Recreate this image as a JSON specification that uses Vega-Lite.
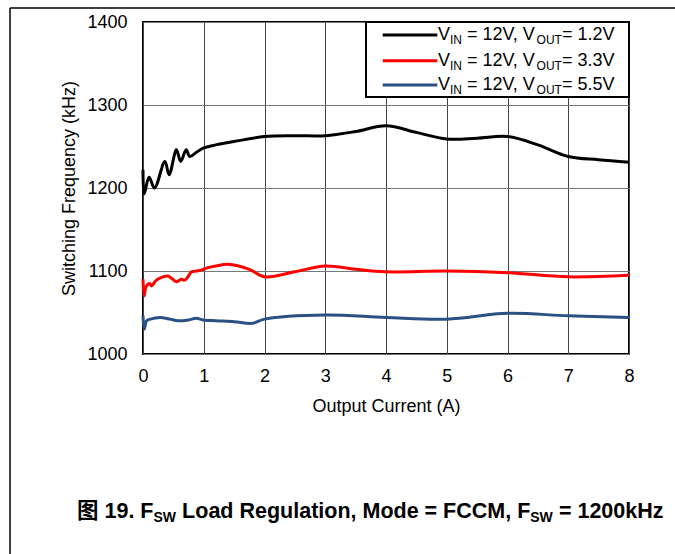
{
  "$schema": "https://vega.github.io/schema/vega-lite/v6.json",
  "width": 486,
  "height": 332,
  "autosize": {"type": "none"},
  "padding": {"left": 143, "top": 22, "right": 46, "bottom": 200},
  "background": "white",
  "config": {
    "font": "Liberation Sans",
    "view": {"stroke": "black", "strokeWidth": 2},
    "text": {"font": "Liberation Sans", "fontSize": 18, "baseline": "middle", "align": "left", "color": "black"}
  },
  "datasets": {
    "curves": [
      {"current": 0, "freq": 1222, "series": "1.2V"},
      {"current": 0.02, "freq": 1193, "series": "1.2V"},
      {"current": 0.1, "freq": 1213, "series": "1.2V"},
      {"current": 0.19, "freq": 1200, "series": "1.2V"},
      {"current": 0.36, "freq": 1232, "series": "1.2V"},
      {"current": 0.43, "freq": 1216, "series": "1.2V"},
      {"current": 0.55, "freq": 1246, "series": "1.2V"},
      {"current": 0.62, "freq": 1232, "series": "1.2V"},
      {"current": 0.71, "freq": 1246, "series": "1.2V"},
      {"current": 0.77, "freq": 1238, "series": "1.2V"},
      {"current": 0.88, "freq": 1243, "series": "1.2V"},
      {"current": 0.99, "freq": 1248, "series": "1.2V"},
      {"current": 1.2, "freq": 1252, "series": "1.2V"},
      {"current": 1.5, "freq": 1256, "series": "1.2V"},
      {"current": 2, "freq": 1262, "series": "1.2V"},
      {"current": 2.5, "freq": 1263, "series": "1.2V"},
      {"current": 3, "freq": 1263, "series": "1.2V"},
      {"current": 3.5, "freq": 1268, "series": "1.2V"},
      {"current": 4, "freq": 1275, "series": "1.2V"},
      {"current": 4.5, "freq": 1267, "series": "1.2V"},
      {"current": 5, "freq": 1259, "series": "1.2V"},
      {"current": 5.5, "freq": 1260, "series": "1.2V"},
      {"current": 6, "freq": 1262, "series": "1.2V"},
      {"current": 6.5, "freq": 1252, "series": "1.2V"},
      {"current": 7, "freq": 1238, "series": "1.2V"},
      {"current": 7.5, "freq": 1234, "series": "1.2V"},
      {"current": 8, "freq": 1231, "series": "1.2V"},
      {"current": 0, "freq": 1090, "series": "3.3V"},
      {"current": 0.02, "freq": 1070, "series": "3.3V"},
      {"current": 0.05, "freq": 1081, "series": "3.3V"},
      {"current": 0.11, "freq": 1085, "series": "3.3V"},
      {"current": 0.14, "freq": 1082, "series": "3.3V"},
      {"current": 0.22, "freq": 1089, "series": "3.3V"},
      {"current": 0.33, "freq": 1093, "series": "3.3V"},
      {"current": 0.41, "freq": 1094, "series": "3.3V"},
      {"current": 0.49, "freq": 1090, "series": "3.3V"},
      {"current": 0.55, "freq": 1087, "series": "3.3V"},
      {"current": 0.63, "freq": 1090, "series": "3.3V"},
      {"current": 0.69, "freq": 1089, "series": "3.3V"},
      {"current": 0.74, "freq": 1093, "series": "3.3V"},
      {"current": 0.8, "freq": 1099, "series": "3.3V"},
      {"current": 0.88, "freq": 1100, "series": "3.3V"},
      {"current": 0.96, "freq": 1101, "series": "3.3V"},
      {"current": 1.07, "freq": 1104, "series": "3.3V"},
      {"current": 1.2, "freq": 1106, "series": "3.3V"},
      {"current": 1.4, "freq": 1108, "series": "3.3V"},
      {"current": 1.75, "freq": 1102, "series": "3.3V"},
      {"current": 2, "freq": 1093, "series": "3.3V"},
      {"current": 2.5, "freq": 1099, "series": "3.3V"},
      {"current": 3, "freq": 1106, "series": "3.3V"},
      {"current": 3.5, "freq": 1102, "series": "3.3V"},
      {"current": 4, "freq": 1099, "series": "3.3V"},
      {"current": 5, "freq": 1100, "series": "3.3V"},
      {"current": 6, "freq": 1098, "series": "3.3V"},
      {"current": 7, "freq": 1093, "series": "3.3V"},
      {"current": 8, "freq": 1095, "series": "3.3V"},
      {"current": 0, "freq": 1046, "series": "5.5V"},
      {"current": 0.02, "freq": 1030, "series": "5.5V"},
      {"current": 0.06, "freq": 1040, "series": "5.5V"},
      {"current": 0.12, "freq": 1042, "series": "5.5V"},
      {"current": 0.28, "freq": 1044, "series": "5.5V"},
      {"current": 0.44, "freq": 1042, "series": "5.5V"},
      {"current": 0.58, "freq": 1040, "series": "5.5V"},
      {"current": 0.75, "freq": 1041, "series": "5.5V"},
      {"current": 0.88, "freq": 1043, "series": "5.5V"},
      {"current": 0.99, "freq": 1041, "series": "5.5V"},
      {"current": 1.2, "freq": 1040, "series": "5.5V"},
      {"current": 1.5, "freq": 1039, "series": "5.5V"},
      {"current": 1.8, "freq": 1037, "series": "5.5V"},
      {"current": 2, "freq": 1042, "series": "5.5V"},
      {"current": 3, "freq": 1047, "series": "5.5V"},
      {"current": 4, "freq": 1044, "series": "5.5V"},
      {"current": 5, "freq": 1042, "series": "5.5V"},
      {"current": 6, "freq": 1049, "series": "5.5V"},
      {"current": 7, "freq": 1046, "series": "5.5V"},
      {"current": 8, "freq": 1044, "series": "5.5V"}
    ],
    "one": [{"k": 1}]
  },
  "layer": [
    {
      "data": {"name": "curves"},
      "mark": {"type": "line", "interpolate": "catmull-rom", "strokeWidth": 3},
      "encoding": {
        "x": {
          "field": "current", "type": "quantitative",
          "scale": {"domain": [0, 8], "nice": false, "zero": false},
          "axis": {
            "title": "Output Current (A)", "values": [0, 1, 2, 3, 4, 5, 6, 7, 8], "format": "d",
            "grid": true, "gridColor": "#444444", "gridWidth": 1, "ticks": false, "domain": false,
            "labelFontSize": 18, "labelColor": "black", "labelPadding": 13, "labelFlush": false, "labelOverlap": false, "labelBound": false,
            "titleFontSize": 18, "titleFontWeight": "normal", "titleColor": "black", "titlePadding": 12
          }
        },
        "y": {
          "field": "freq", "type": "quantitative",
          "scale": {"domain": [1000, 1400], "nice": false, "zero": false},
          "axis": {
            "title": "Switching Frequency (kHz)", "values": [1000, 1100, 1200, 1300, 1400], "format": "d",
            "grid": true, "gridColor": "#777777", "gridWidth": 1, "ticks": false, "domain": false,
            "labelFontSize": 18, "labelColor": "black", "labelPadding": 16, "labelFlush": false, "labelOverlap": false, "labelBound": false,
            "titleFontSize": 18, "titleFontWeight": "normal", "titleColor": "black", "titlePadding": 8
          }
        },
        "color": {
          "field": "series", "type": "nominal",
          "scale": {"domain": ["1.2V", "3.3V", "5.5V"], "range": ["#000000", "#ff0000", "#2b5084"]},
          "legend": null
        }
      }
    },
    {
      "data": {"name": "one"},
      "mark": {"type": "rule", "color": "black", "strokeWidth": 1.5},
      "encoding": {"x": {"datum": -2.189}, "x2": {"datum": 9}, "y": {"datum": 1416.9}}
    },
    {
      "data": {"name": "one"},
      "mark": {"type": "rule", "color": "black", "strokeWidth": 1.5},
      "encoding": {"x": {"datum": -2.189}, "y": {"datum": 1416.9}, "y2": {"datum": 700}}
    },
    {
      "data": {"name": "one"},
      "mark": {"type": "rect", "fill": "white", "stroke": "black", "strokeWidth": 2},
      "encoding": {"x": {"datum": 3.671}, "x2": {"datum": 8}, "y": {"datum": 1400}, "y2": {"datum": 1309.6}}
    },
    {
      "data": {"name": "one"},
      "mark": {"type": "rule", "color": "#000000", "strokeWidth": 3},
      "encoding": {"x": {"datum": 3.946}, "x2": {"datum": 4.845}, "y": {"datum": 1384.3}}
    },
    {
      "data": {"name": "one"},
      "mark": {"type": "rule", "color": "#ff0000", "strokeWidth": 3},
      "encoding": {"x": {"datum": 3.946}, "x2": {"datum": 4.845}, "y": {"datum": 1353.4}}
    },
    {
      "data": {"name": "one"},
      "mark": {"type": "rule", "color": "#2b5084", "strokeWidth": 3},
      "encoding": {"x": {"datum": 3.946}, "x2": {"datum": 4.845}, "y": {"datum": 1324.1}}
    },
    {"data": {"name": "one"}, "mark": {"type": "text", "text": "V"}, "encoding": {"x": {"datum": 4.856}, "y": {"datum": 1384.3}}},
    {"data": {"name": "one"}, "mark": {"type": "text", "text": "IN", "fontSize": 12, "dy": 5}, "encoding": {"x": {"datum": 5.053}, "y": {"datum": 1384.3}}},
    {"data": {"name": "one"}, "mark": {"type": "text", "text": "= 12V, V"}, "encoding": {"x": {"datum": 5.333}, "y": {"datum": 1384.3}}},
    {"data": {"name": "one"}, "mark": {"type": "text", "text": "OUT", "fontSize": 12, "dy": 5}, "encoding": {"x": {"datum": 6.479}, "y": {"datum": 1384.3}}},
    {"data": {"name": "one"}, "mark": {"type": "text", "text": "= 1.2V"}, "encoding": {"x": {"datum": 6.896}, "y": {"datum": 1384.3}}},
    {"data": {"name": "one"}, "mark": {"type": "text", "text": "V"}, "encoding": {"x": {"datum": 4.856}, "y": {"datum": 1353.4}}},
    {"data": {"name": "one"}, "mark": {"type": "text", "text": "IN", "fontSize": 12, "dy": 5}, "encoding": {"x": {"datum": 5.053}, "y": {"datum": 1353.4}}},
    {"data": {"name": "one"}, "mark": {"type": "text", "text": "= 12V, V"}, "encoding": {"x": {"datum": 5.333}, "y": {"datum": 1353.4}}},
    {"data": {"name": "one"}, "mark": {"type": "text", "text": "OUT", "fontSize": 12, "dy": 5}, "encoding": {"x": {"datum": 6.479}, "y": {"datum": 1353.4}}},
    {"data": {"name": "one"}, "mark": {"type": "text", "text": "= 3.3V"}, "encoding": {"x": {"datum": 6.896}, "y": {"datum": 1353.4}}},
    {"data": {"name": "one"}, "mark": {"type": "text", "text": "V"}, "encoding": {"x": {"datum": 4.856}, "y": {"datum": 1324.1}}},
    {"data": {"name": "one"}, "mark": {"type": "text", "text": "IN", "fontSize": 12, "dy": 5}, "encoding": {"x": {"datum": 5.053}, "y": {"datum": 1324.1}}},
    {"data": {"name": "one"}, "mark": {"type": "text", "text": "= 12V, V"}, "encoding": {"x": {"datum": 5.333}, "y": {"datum": 1324.1}}},
    {"data": {"name": "one"}, "mark": {"type": "text", "text": "OUT", "fontSize": 12, "dy": 5}, "encoding": {"x": {"datum": 6.479}, "y": {"datum": 1324.1}}},
    {"data": {"name": "one"}, "mark": {"type": "text", "text": "= 5.5V"}, "encoding": {"x": {"datum": 6.896}, "y": {"datum": 1324.1}}},
    {"data": {"name": "one"}, "mark": {"type": "text", "text": "图 19. F", "font": "Liberation Sans, Noto Sans CJK SC", "fontWeight": "bold", "fontSize": 21.5}, "encoding": {"x": {"datum": -1.086}, "y": {"datum": 809.6}}},
    {"data": {"name": "one"}, "mark": {"type": "text", "text": "SW", "fontWeight": "bold", "fontSize": 14, "dy": 6}, "encoding": {"x": {"datum": 0.173}, "y": {"datum": 809.6}}},
    {"data": {"name": "one"}, "mark": {"type": "text", "text": "Load Regulation, Mode = FCCM, F", "fontWeight": "bold", "fontSize": 21.5}, "encoding": {"x": {"datum": 0.644}, "y": {"datum": 809.6}}},
    {"data": {"name": "one"}, "mark": {"type": "text", "text": "SW", "fontWeight": "bold", "fontSize": 14, "dy": 6}, "encoding": {"x": {"datum": 6.375}, "y": {"datum": 809.6}}},
    {"data": {"name": "one"}, "mark": {"type": "text", "text": "= 1200kHz", "fontWeight": "bold", "fontSize": 21.5}, "encoding": {"x": {"datum": 6.846}, "y": {"datum": 809.6}}}
  ]
}
